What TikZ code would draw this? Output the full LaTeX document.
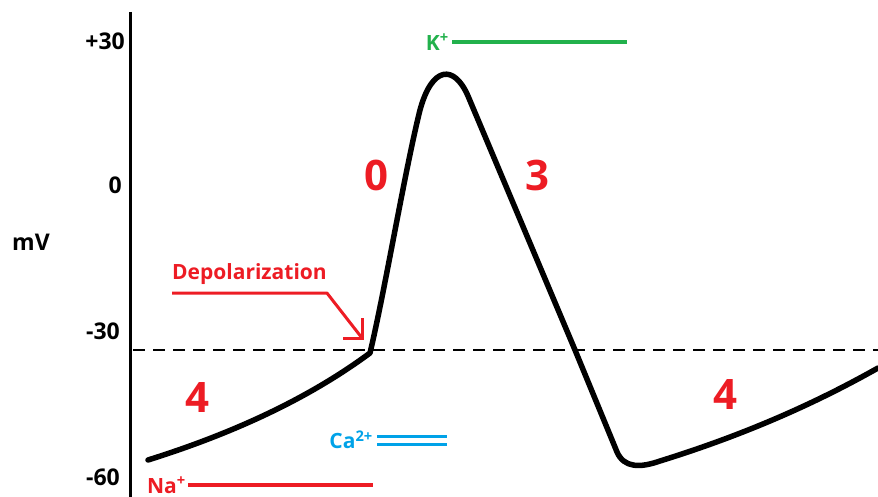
\documentclass[tikz,border=0pt]{standalone}
\usepackage{fontspec}
\setmainfont{Open Sans}
\usetikzlibrary{positioning, calc, arrows.meta}
\definecolor{apred}{HTML}{ED1C24}
\definecolor{apgreen}{HTML}{22B14C}
\definecolor{apblue}{HTML}{00A2E8}
\begin{document}
\begin{tikzpicture}[
        x=1pt, y=-1pt,
        % Define styles for the labels of the plot
        axislabel/.style={font=\bfseries\fontsize{23}{26}\selectfont, inner sep=0pt},
        phase/.style={font=\bfseries\fontsize{42}{46}\selectfont, text=apred, inner sep=0pt},
        ion/.style={font=\bfseries\fontsize{21}{24}\selectfont, inner sep=0pt},
        current/.style={line width=3.5pt}
    ]
    \useasboundingbox (0,0) rectangle (878,497);

    % --- AXIS ---
    \coordinate (axtop) at (130,12);
    \coordinate (axbot) at (130,497);
    \draw[line width=3pt] (axtop) -- (axbot);

    % Axis labels
    \node[axislabel, anchor=east] (p30) at (125,41) {+30};
    \node[axislabel, anchor=east] (zero) at (122,185) {0};
    \node[axislabel] (mv) at (31,242) {mV};
    \node[axislabel, anchor=east] (m30) at (120,331) {-30};
    \node[axislabel, anchor=east] (m60) at (120,477) {-60};

    % Threshold line
    \coordinate (thl) at (133,350);
    \coordinate (thr) at (878,350);
    \draw[dashed, dash pattern=on 12pt off 8pt, line width=1.6pt] (thl) -- (thr);

    % --- ACTION POTENTIAL ---
    \draw[line width=5.5pt, line join=round, line cap=round]
        (148,460) .. controls (250,428) and (320,390) .. (370,353)
        .. controls (385,290) and (405,170) .. (420,110)
        .. controls (432,66) and (454,64) .. (468,96)
        -- (575,350) -- (617,452)
        .. controls (624,468) and (640,468) .. (660,461)
        .. controls (760,430) and (830,395) .. (878,368);

    % Phase numbers
    \node[phase] (ph0) at (376,175) {0};
    \node[phase] (ph3) at (537,175) {3};
    \node[phase] (ph4a) at (197,398) {4};
    \node[phase] (ph4b) at (725,395) {4};

    % --- DEPOLARIZATION ---
    \node[ion, text=apred, anchor=south west] (depol) at (172,285) {Depolarization};
    \coordinate (dtip) at (362,338);
    \draw[apred, line width=3pt, line join=round]
        ([yshift=-8pt]depol.south west) -- ([yshift=-8pt]depol.south east) -- (dtip);
    \draw[apred, line width=3pt, line join=miter] ([xshift=-19pt]dtip) -- (dtip) -- ([yshift=20pt]dtip);

    % --- ION CURRENTS ---
    \node[ion, text=apgreen, anchor=east] (kion) at (449,42) {K\textsuperscript{+}};
    \coordinate (kend) at (627,42);
    \draw[apgreen, current] (kion.east) ++(3pt,0) -- (kend);

    \node[ion, text=apblue, anchor=east] (caion) at (373,440) {Ca\textsuperscript{2+}};
    \coordinate (caend) at (447,440);
    \draw[apblue, line width=3pt] ([yshift=4pt]caion.east) ++(4pt,0) -- ([yshift=4pt]caend);
    \draw[apblue, line width=3pt] ([yshift=-4pt]caion.east) ++(4pt,0) -- ([yshift=-4pt]caend);

    \node[ion, text=apred, anchor=east] (naion) at (186,485) {Na\textsuperscript{+}};
    \coordinate (naend) at (373,485);
    \draw[apred, current] (naion.east) ++(2pt,0) -- (naend);
\end{tikzpicture}
\end{document}
